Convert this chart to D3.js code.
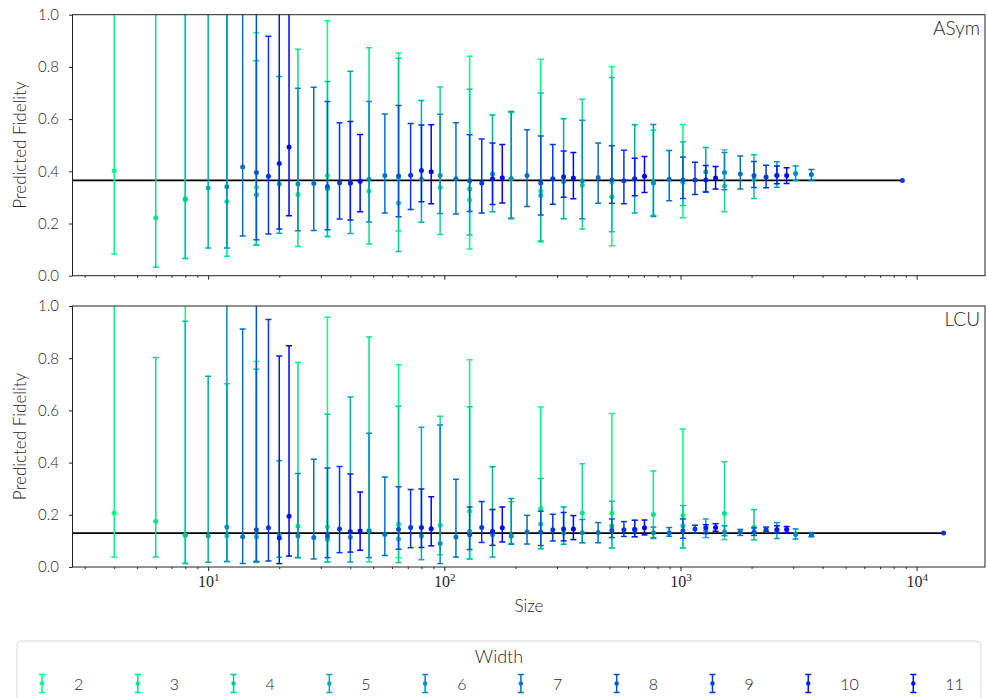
<!DOCTYPE html>
<meta charset="utf-8">
<head>
<style>
  body { margin:0; background:#fff; }
  text { font-family: Lato, "DejaVu Sans", sans-serif; font-weight: 300; fill:#262626; }
</style>
<script src="https://d3js.org/d3.v7.min.js"></script>
</head>
<body>
<svg width="987" height="698"></svg>
<script>
// ---- data ----
var widths = [2, 3, 4, 5, 6, 7, 8, 9, 10, 11];

var sizes = [
  [4, 8, 16, 32, 64, 128, 256, 512, 1024],
  [6, 12, 24, 48, 96, 192, 384, 768, 1536],
  [8, 16, 32, 64, 128, 256, 512, 1024, 2048],
  [10, 20, 40, 80, 160, 320, 640, 1280, 2560],
  [12, 24, 48, 96, 192, 384, 768, 1536, 3072],
  [14, 28, 56, 112, 224, 448, 896, 1792, 3584],
  [16, 32, 64, 128, 256, 512, 1024, 2048],
  [18, 36, 72, 144, 288, 576, 1152, 2304],
  [20, 40, 80, 160, 320, 640, 1280, 2560],
  [22, 44, 88, 176, 352, 704, 1408, 2816]
];

// ASym panel
var asymMean = [
  [0.402, 0.291, 0.339, 0.384, 0.375, 0.290, 0.325, 0.357, 0.357],
  [0.222, 0.284, 0.311, 0.325, 0.338, 0.371, 0.347, 0.358, 0.344],
  [0.295, 0.310, 0.333, 0.279, 0.332, 0.307, 0.302, 0.362, 0.370],
  [0.336, 0.351, 0.355, 0.370, 0.390, 0.361, 0.370, 0.398, 0.385],
  [0.341, 0.351, 0.370, 0.384, 0.371, 0.364, 0.355, 0.395, 0.392],
  [0.416, 0.353, 0.384, 0.371, 0.384, 0.376, 0.370, 0.390, 0.388],
  [0.395, 0.342, 0.382, 0.364, 0.355, 0.367, 0.367, 0.384],
  [0.381, 0.356, 0.385, 0.355, 0.371, 0.364, 0.367, 0.378],
  [0.430, 0.355, 0.403, 0.371, 0.379, 0.371, 0.367, 0.384],
  [0.493, 0.362, 0.398, 0.375, 0.374, 0.381, 0.374, 0.384]
];
var asymLo = [
  [0.083, 0.066, 0.120, 0.150, 0.171, 0.102, 0.129, 0.115, 0.222],
  [0.032, 0.075, 0.112, 0.121, 0.158, 0.222, 0.179, 0.232, 0.245],
  [0.066, 0.117, 0.150, 0.093, 0.156, 0.133, 0.168, 0.269, 0.296],
  [0.106, 0.163, 0.162, 0.205, 0.245, 0.218, 0.240, 0.321, 0.339],
  [0.106, 0.172, 0.206, 0.238, 0.218, 0.218, 0.227, 0.329, 0.365],
  [0.152, 0.173, 0.240, 0.236, 0.265, 0.278, 0.287, 0.332, 0.365],
  [0.138, 0.176, 0.226, 0.246, 0.233, 0.278, 0.296, 0.338],
  [0.160, 0.217, 0.254, 0.240, 0.274, 0.276, 0.311, 0.337],
  [0.179, 0.213, 0.283, 0.273, 0.301, 0.306, 0.321, 0.352],
  [0.230, 0.245, 0.276, 0.279, 0.295, 0.319, 0.332, 0.353]
];
var asymHi = [
  [1.3, 1.3, 0.931, 0.977, 0.853, 0.841, 0.829, 0.801, 0.579],
  [1.3, 1.3, 0.868, 0.873, 0.723, 0.625, 0.676, 0.557, 0.483],
  [1.3, 0.824, 0.744, 0.833, 0.714, 0.700, 0.759, 0.513, 0.463],
  [1.3, 0.763, 0.783, 0.671, 0.616, 0.601, 0.578, 0.491, 0.437],
  [1.3, 0.718, 0.667, 0.619, 0.629, 0.596, 0.579, 0.472, 0.420],
  [1.3, 0.722, 0.620, 0.586, 0.559, 0.508, 0.480, 0.459, 0.407],
  [1.3, 0.667, 0.652, 0.540, 0.535, 0.498, 0.455, 0.438],
  [0.917, 0.586, 0.583, 0.524, 0.503, 0.481, 0.435, 0.423],
  [1.3, 0.591, 0.577, 0.508, 0.478, 0.450, 0.422, 0.420],
  [1.3, 0.541, 0.578, 0.503, 0.472, 0.457, 0.418, 0.414]
];

// LCU panel
var lcuMean = [
  [0.207, 0.122, 0.116, 0.153, 0.164, 0.214, 0.224, 0.206, 0.197],
  [0.175, 0.119, 0.156, 0.140, 0.160, 0.119, 0.207, 0.201, 0.205],
  [0.122, 0.116, 0.105, 0.107, 0.137, 0.165, 0.157, 0.158, 0.152],
  [0.119, 0.124, 0.114, 0.119, 0.124, 0.130, 0.142, 0.140, 0.140],
  [0.153, 0.119, 0.138, 0.090, 0.119, 0.131, 0.131, 0.134, 0.125],
  [0.116, 0.113, 0.125, 0.115, 0.134, 0.132, 0.131, 0.134, 0.123],
  [0.143, 0.119, 0.145, 0.124, 0.134, 0.141, 0.139, 0.134],
  [0.150, 0.146, 0.151, 0.151, 0.143, 0.143, 0.146, 0.143],
  [0.111, 0.136, 0.151, 0.137, 0.146, 0.145, 0.150, 0.144],
  [0.194, 0.138, 0.147, 0.150, 0.146, 0.150, 0.151, 0.144]
];
var lcuLo = [
  [0.038, 0.013, 0.017, 0.019, 0.036, 0.031, 0.070, 0.073, 0.073],
  [0.038, 0.021, 0.036, 0.020, 0.047, 0.090, 0.093, 0.109, 0.105],
  [0.013, 0.021, 0.019, 0.017, 0.031, 0.070, 0.073, 0.073, 0.104],
  [0.018, 0.037, 0.019, 0.028, 0.038, 0.087, 0.116, 0.113, 0.109],
  [0.021, 0.036, 0.036, 0.013, 0.087, 0.093, 0.112, 0.120, 0.107],
  [0.013, 0.031, 0.044, 0.038, 0.088, 0.093, 0.118, 0.121, 0.116],
  [0.021, 0.036, 0.068, 0.067, 0.082, 0.113, 0.110, 0.121],
  [0.023, 0.055, 0.074, 0.094, 0.100, 0.117, 0.130, 0.137],
  [0.013, 0.057, 0.075, 0.083, 0.100, 0.116, 0.128, 0.130],
  [0.042, 0.064, 0.081, 0.096, 0.105, 0.123, 0.137, 0.132]
];
var lcuHi = [
  [1.3, 1.3, 0.787, 0.957, 0.775, 0.794, 0.613, 0.588, 0.529],
  [0.803, 0.702, 0.784, 0.881, 0.578, 0.250, 0.396, 0.368, 0.403],
  [0.942, 0.758, 0.585, 0.616, 0.614, 0.339, 0.252, 0.236, 0.220],
  [0.731, 0.407, 0.651, 0.535, 0.384, 0.230, 0.179, 0.184, 0.170],
  [1.3, 0.358, 0.512, 0.544, 0.262, 0.182, 0.153, 0.158, 0.146],
  [0.912, 0.413, 0.345, 0.336, 0.198, 0.170, 0.151, 0.144, 0.132],
  [1.3, 0.379, 0.307, 0.230, 0.214, 0.184, 0.184, 0.150],
  [0.948, 0.385, 0.297, 0.251, 0.202, 0.174, 0.160, 0.153],
  [0.808, 0.356, 0.299, 0.220, 0.209, 0.179, 0.162, 0.158],
  [0.848, 0.287, 0.269, 0.230, 0.197, 0.180, 0.166, 0.155]
];

// reference (exact) value per panel, drawn as a line up to the full size
var panelNames = ["ASym", "LCU"];
var refValues = [0.365, 0.130];
var refSizes = [8700, 13000];

var yTicks = [0, 0.2, 0.4, 0.6, 0.8, 1.0];
var xMajorExps = [1, 2, 3, 4];

// ---- layout ----
var W = 987, H = 698;
var left = 72.5, right = 985;
var panelTops = [14.7, 306];
var panelH = 261;

var svg = d3.select("svg").attr("width", W).attr("height", H);

var x = d3.scaleLog().domain([Math.pow(10, 0.4255), Math.pow(10, 4.2895)]).range([left, right]);

// winter colormap, reversed: width 2 green -> width 11 blue
var color = d3.scaleLinear().domain([2, 11]).range(["rgb(0,255,128)", "rgb(0,0,255)"]);

var minorTicks = [];
for (var e = 0; e <= 4; e++) {
  for (var m = 2; m <= 9; m++) {
    var v = m * Math.pow(10, e);
    if (v > x.domain()[0] && v < x.domain()[1]) minorTicks.push(v);
  }
}

function drawPanel(p, means, los, his) {
  var top = panelTops[p];
  var y = d3.scaleLinear().domain([0, 1]).range([top + panelH, top]);
  var g = svg.append("g");

  g.append("clipPath").attr("id", "clip" + p)
    .append("rect").attr("x", left).attr("y", top).attr("width", right - left).attr("height", panelH);

  var plot = g.append("g").attr("clip-path", "url(#clip" + p + ")");

  // reference line
  plot.append("line")
    .attr("x1", left).attr("x2", x(refSizes[p]))
    .attr("y1", y(refValues[p])).attr("y2", y(refValues[p]))
    .attr("stroke", "#000").attr("stroke-width", 1.8);

  widths.forEach(function (w, i) {
    var c = color(w);
    var eb = plot.append("g").attr("stroke", c).attr("stroke-width", 1.5);
    sizes[i].forEach(function (s, j) {
      var cx = x(s);
      eb.append("line").attr("x1", cx).attr("x2", cx)
        .attr("y1", y(los[i][j])).attr("y2", y(his[i][j]));
      [los[i][j], his[i][j]].forEach(function (v) {
        eb.append("line").attr("x1", cx - 3).attr("x2", cx + 3)
          .attr("y1", y(v)).attr("y2", y(v));
      });
      eb.append("circle").attr("cx", cx).attr("cy", y(means[i][j]))
        .attr("r", 2.5).attr("fill", c).attr("stroke", "none");
    });
  });

  plot.append("circle")
    .attr("cx", x(refSizes[p])).attr("cy", y(refValues[p]))
    .attr("r", 2.5).attr("fill", "#1030f0");

  // axes
  var yAxis = g.append("g").attr("transform", "translate(" + left + ",0)")
    .call(d3.axisLeft(y).tickValues(yTicks).tickFormat(d3.format(".1f")).tickSize(3.5).tickPadding(10));
  yAxis.select(".domain").remove();
  yAxis.selectAll("text").style("font-size", "15px").attr("font-family", null).attr("fill", null);

  var xMinor = g.append("g").attr("transform", "translate(0," + (top + panelH) + ")")
    .call(d3.axisBottom(x).tickValues(minorTicks).tickSize(2).tickFormat(""));
  xMinor.select(".domain").remove();

  var xMajor = g.append("g").attr("transform", "translate(0," + (top + panelH) + ")")
    .call(d3.axisBottom(x).tickValues(xMajorExps.map(function (d) { return Math.pow(10, d); }))
      .tickSize(4).tickPadding(5).tickFormat(""));
  xMajor.select(".domain").remove();

  if (p === 1) {
    xMajor.selectAll(".tick").append("text")
      .attr("y", 20).attr("text-anchor", "middle")
      .style("font-family", "'Liberation Serif', 'DejaVu Serif', serif")
      .style("font-weight", "400")
      .style("font-size", "16px")
      .each(function (d) {
        var t = d3.select(this);
        t.append("tspan").text("10");
        t.append("tspan").attr("dy", -6).style("font-size", "11px").text(Math.round(Math.log10(d)));
      });
  }

  g.selectAll(".tick line").attr("stroke", "#222");

  g.append("rect").attr("x", left).attr("y", top).attr("width", right - left).attr("height", panelH)
    .attr("fill", "none").attr("stroke", "#222").attr("stroke-width", 1);

  g.append("text").attr("x", right - 5).attr("y", top + 20)
    .attr("text-anchor", "end").style("font-size", "19px").text(panelNames[p]);

  g.append("text")
    .attr("transform", "translate(26," + (top + panelH / 2) + ") rotate(-90)")
    .attr("text-anchor", "middle").style("font-size", "17px").text("Predicted Fidelity");
}

drawPanel(0, asymMean, asymLo, asymHi);
drawPanel(1, lcuMean, lcuLo, lcuHi);

svg.append("text").attr("x", 529).attr("y", 612).attr("text-anchor", "middle")
  .style("font-size", "17px").text("Size");

// ---- legend ----
var lg = svg.append("g");
lg.append("rect").attr("x", 17).attr("y", 641).attr("width", 964).attr("height", 80)
  .attr("rx", 4).attr("fill", "#fff").attr("stroke", "#d8d8d8").attr("stroke-width", 1);
lg.append("text").attr("x", 499).attr("y", 663).attr("text-anchor", "middle")
  .style("font-size", "18px").text("Width");

var cxPos = 42;
widths.forEach(function (w) {
  var c = color(w);
  var item = lg.append("g");
  item.append("line").attr("x1", cxPos).attr("x2", cxPos).attr("y1", 674.5).attr("y2", 692.5)
    .attr("stroke", c).attr("stroke-width", 1.5);
  [674.5, 692.5].forEach(function (yy) {
    item.append("line").attr("x1", cxPos - 3).attr("x2", cxPos + 3).attr("y1", yy).attr("y2", yy)
      .attr("stroke", c).attr("stroke-width", 1.5);
  });
  item.append("circle").attr("cx", cxPos).attr("cy", 683.5).attr("r", 2.2).attr("fill", c);
  var t = item.append("text").attr("x", cxPos + 32).attr("y", 690).style("font-size", "16px").text(w);
  cxPos += 86.5 + t.node().getComputedTextLength();
});
</script>
</body>
